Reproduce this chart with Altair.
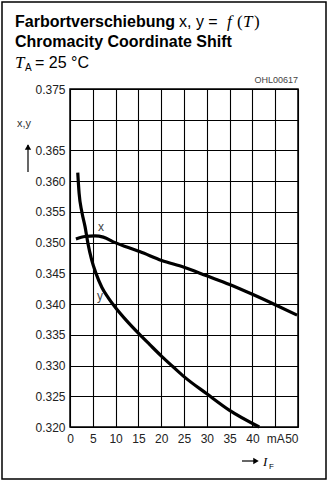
import altair as alt
import pandas as pd

# data
x_curr = [1.3, 3.3, 5.5, 7.3, 9.9, 12.8, 15.4, 20.1, 25.0, 30.0, 35.0, 40.0, 45.0, 49.8]
x_vals = [0.3506, 0.3510, 0.3511, 0.3509, 0.3500, 0.3492, 0.3485, 0.3471, 0.3460, 0.3446, 0.3432, 0.3416, 0.3399, 0.3382]
y_curr = [1.7, 2.0, 2.6, 3.3, 3.9, 4.75, 5.7, 7.0, 8.4, 10.0, 12.4, 15.2, 17.5, 20.1, 22.6, 25.0, 30.0, 35.0, 41.5]
y_vals = [0.3614, 0.3580, 0.3550, 0.3526, 0.3500, 0.3472, 0.3450, 0.3427, 0.3410, 0.3394, 0.3373, 0.3351, 0.3334, 0.3315, 0.3298, 0.3282, 0.3254, 0.3227, 0.3200]
x_ticks = [0, 5, 10, 15, 20, 25, 30, 35, 40, 45, 50]
y_ticks = [0.320, 0.325, 0.330, 0.335, 0.340, 0.345, 0.350, 0.355, 0.360, 0.365, 0.370, 0.375]

df = pd.DataFrame(
    {"I": x_curr + y_curr,
     "v": x_vals + y_vals,
     "s": ["x"] * len(x_curr) + ["y"] * len(y_curr)}
)

W, H = 228, 338
FONT = "Liberation Sans"
SERIF = "Liberation Serif"

lines = alt.Chart(df).mark_line(
    color="black", strokeWidth=3.2, interpolate="monotone"
).encode(
    x=alt.X("I:Q", scale=alt.Scale(domain=[0, 50], nice=False),
            axis=alt.Axis(values=x_ticks, title=None,
                          labelAlign={"condition": {"test": "datum.value == 50", "value": "right"}, "value": "center"},
                          labelExpr="datum.value == 45 ? 'mA' : datum.label")),
    y=alt.Y("v:Q", scale=alt.Scale(domain=[0.320, 0.375], nice=False, zero=False),
            axis=alt.Axis(values=y_ticks, title=None, format=".3f",
                          labelExpr="abs(datum.value - 0.37) < 1e-6 ? '' : format(datum.value, '.3f')")),
    detail="s:N",
)

def one():
    return alt.Chart(df).transform_filter("datum.I == 1.3")

def txt(s, x, y, size=12, weight="normal", style="normal", font=FONT, color="black", align="left"):
    return one().mark_text(
        text=s, fontSize=size, fontWeight=weight, fontStyle=style, font=font,
        color=color, align=align, baseline="alphabetic"
    ).encode(x=alt.value(x), y=alt.value(y))

frame = one().mark_rect(
    fill=None, stroke="black", strokeWidth=1.5
).encode(x=alt.value(-68), x2=alt.value(256), y=alt.value(-87), y2=alt.value(390))

arrow_up = one().mark_rule(color="black", strokeWidth=1.2).encode(
    x=alt.value(-42), y=alt.value(56), y2=alt.value(83))
head_up = one().mark_point(shape="triangle-up", filled=True, color="black", size=40, opacity=1).encode(
    x=alt.value(-42), y=alt.value(58))

arrow_r = one().mark_rule(color="black", strokeWidth=1.2).encode(
    x=alt.value(172), x2=alt.value(185), y=alt.value(372))
head_r = one().mark_point(shape="triangle-right", filled=True, color="black", size=40, opacity=1).encode(
    x=alt.value(186), y=alt.value(372))

texts = [
    txt("Farbortverschiebung", -55, -62, size=16, weight="bold"),
    txt("x, y =", 109, -62, size=16),
    txt("f", 157, -62, size=17, style="italic", font=SERIF),
    txt("(", 167, -62, size=17, font=SERIF),
    txt("T", 173, -62, size=17, style="italic", font=SERIF),
    txt(")", 184, -62, size=17, font=SERIF),
    txt("Chromacity Coordinate Shift", -55, -42, size=16, weight="bold"),
    txt("T", -55, -21, size=17, style="italic", font=SERIF),
    txt("A", -45, -18, size=10),
    txt("= 25 °C", -35, -21, size=16),
    txt("OHL00617", 228, -6, size=9, color="#444", align="right"),
    txt("x,y", -53, 38, size=11, color="#333"),
    txt("x", 28, 142, size=12, color="#444"),
    txt("y", 27, 211, size=12, color="#444"),
    txt("I", 193, 377, size=13, style="italic", font=SERIF),
    txt("F", 199, 380, size=8),
]

chart = alt.layer(lines, frame, arrow_up, head_up, arrow_r, head_r, *texts).properties(
    width=W, height=H,
    padding={"left": 70, "top": 89, "right": 35, "bottom": 57},
    autosize=alt.AutoSizeParams(type="none"),
    background="white",
).configure_view(
    stroke="black", strokeWidth=1.5
).configure_axis(
    grid=True, gridColor="black", gridOpacity=1, gridWidth=1.1,
    domain=False, ticks=False,
    labelFont=FONT, labelFontSize=12, labelColor="#222", labelPadding=5,
).configure_axisX(labelPadding=6)

chart.save("out.html", embed_options={"renderer": "svg", "actions": False})
